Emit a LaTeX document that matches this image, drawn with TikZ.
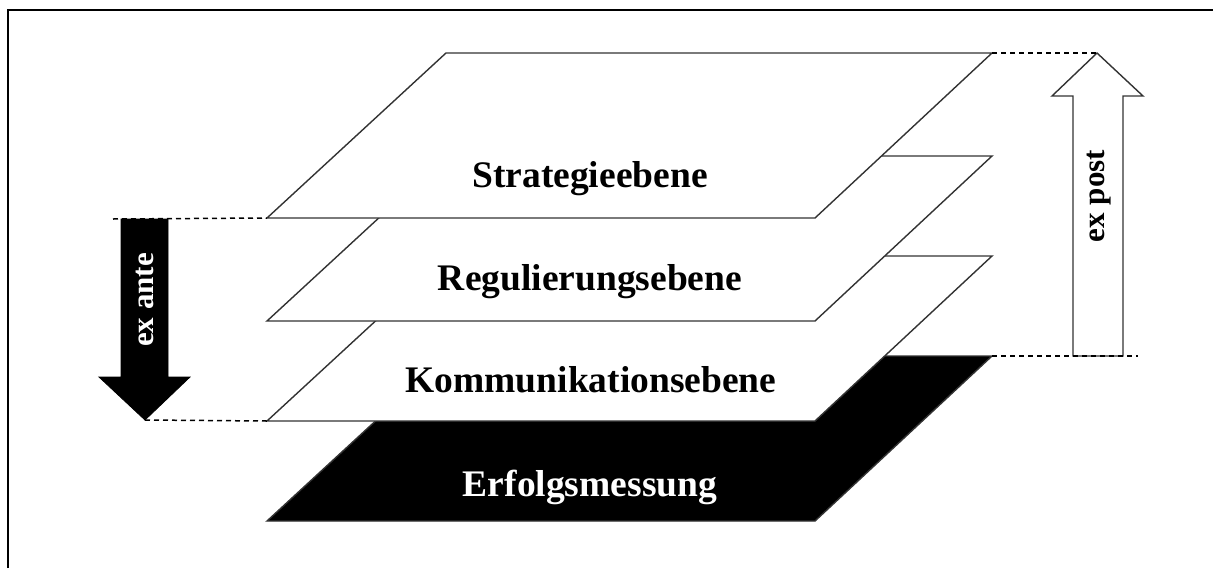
\documentclass[tikz,border=0pt]{standalone}
\usepackage{fontspec}
\setmainfont{Liberation Serif}
\begin{document}
\begin{tikzpicture}[x=1pt,y=-1pt,
  edge/.style={draw=black!80,line width=1.4pt,line join=miter},
  layer/.style={edge,fill=white},
  darklayer/.style={edge,fill=black},
  layertext/.style={anchor=base,inner sep=0pt,font=\fontsize{37.5}{40}\selectfont\bfseries},
  arrowtext/.style={rotate=90,inner sep=0pt,font=\fontsize{31}{34}\selectfont\bfseries},
  guide/.style={draw=black,line width=1.5pt,dash pattern=on 5pt off 4pt}]
\useasboundingbox (0,0) rectangle (1213,568);

% frame (top and left border)
\draw[line width=2pt,black] (8,568) -- (8,10) -- (1213,10);

% stacked layers, drawn from bottom to top
% each layer: bottom-left, bottom-right, top-right, top-left
\foreach \name/\yb/\kind in {d/521/darklayer, c/421/layer, b/321/layer, a/218/layer}{
  \coordinate (\name BL) at (267,\yb);
  \coordinate (\name BR) at (815,\yb);
  \coordinate (\name TR) at (992,\yb-165);
  \coordinate (\name TL) at (446,\yb-165);
  \path[\kind] (\name BL) -- (\name BR) -- (\name TR) -- (\name TL) -- cycle;
}

\node[layertext] (strat) at (590,187) {Strategieebene};
\node[layertext] (regul) at (590,290) {Regulierungsebene};
\node[layertext] (komm)  at (591,392) {Kommunikationsebene};
\node[layertext,text=white] (erfolg) at (590,496) {Erfolgsmessung};

% ex ante arrow (black, pointing down)
\coordinate (anteTop) at (113,219);
\coordinate (anteTip) at (145,420);
\path[fill=black,draw=black,line width=0.8pt]
  (121,219) -- (168,219) -- (168,377) -- (190,377) -- (anteTip)
  -- (99,377) -- (121,377) -- cycle;
\node[arrowtext,text=white] (ante) at (145,300) {ex ante};
\draw[guide] (anteTop) -- (aBL);
\draw[guide] (anteTip) -- (cBL);

% ex post arrow (outlined, pointing up)
\coordinate (postTip) at (1097,53);
\coordinate (postEnd) at (1138,356);
\path[edge,fill=white]
  (1073,356) -- (1123,356) -- (1123,96) -- (1143,96) -- (postTip)
  -- (1052,96) -- (1073,96) -- cycle;
\node[arrowtext] (post) at (1099,196) {ex post};
\draw[guide] (aTR) -- (postTip);
\draw[guide] (dTR) -- (postEnd);
\end{tikzpicture}
\end{document}
